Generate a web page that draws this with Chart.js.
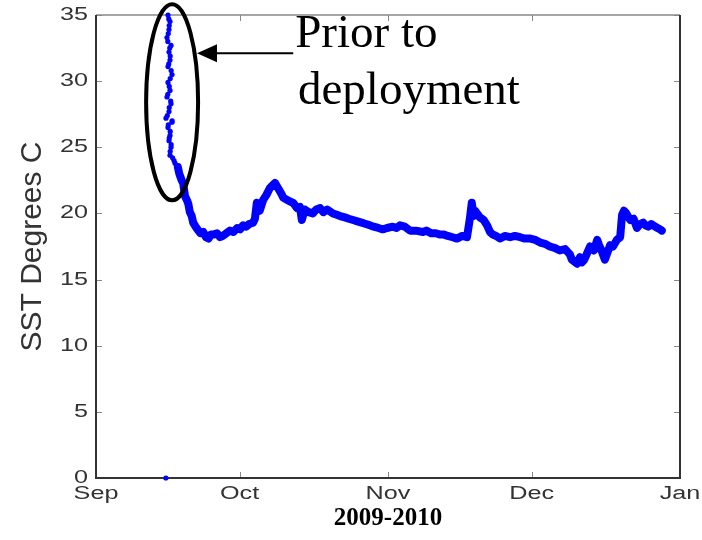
<!DOCTYPE html>
<html>
<head>
<meta charset="utf-8">
<script src="https://cdn.jsdelivr.net/npm/chart.js@4"></script>
<style>
html,body{margin:0;padding:0;background:#fff;}
canvas{display:block;}
</style>
</head>
<body>
<canvas id="c" width="702" height="540"></canvas>
<script>
// ---- tick definitions ----
const tickDays = [0, 30, 61, 91, 122];          // days since 1 Sep 2009
const monthLabels = ['Sep', 'Oct', 'Nov', 'Dec', 'Jan'];
const yTicks = [0, 5, 10, 15, 20, 25, 30, 35];

// ---- pre-deployment readings (day since 1 Sep, SST °C) ----
const priorDays = [15.04, 15.2, 15.46, 15.3, 15.25, 15.1, 14.83, 15.0, 15.67, 15.4, 15.25, 15.5,
                   15.46, 15.2, 15.04, 15.7, 15.88, 15.5, 15.04, 15.3, 15.46, 15.0, 14.83, 15.6,
                   15.67, 15.3, 15.25, 14.9, 14.62, 15.9, 15.88, 15.1, 15.04, 15.5, 15.46, 15.3,
                   15.25, 15.7, 15.67, 15.5, 15.46, 16.0, 16.29, 16.5, 14.6];
const priorSST  = [35.0, 34.7, 34.5, 34.2, 33.9, 33.6, 33.3, 33.0, 32.7, 32.5, 32.2, 31.9,
                   31.6, 31.3, 31.1, 30.8, 30.5, 30.2, 29.9, 29.6, 29.3, 29.0, 28.8, 28.5,
                   28.3, 28.0, 27.7, 27.4, 27.2, 27.0, 26.9, 26.7, 26.5, 26.2, 25.9, 25.7,
                   25.5, 25.2, 25.0, 24.7, 24.4, 24.2, 24.0, 23.8, 0.0];

// ---- deployed SST record ----
const sstDays = [17.1, 17.4, 17.6, 17.9, 18.2, 18.6, 19.0, 19.3, 19.6, 20.0, 20.3, 20.8, 21.2, 21.8,
  22.4, 23.0, 23.5, 24.0, 24.5, 25.3, 25.9, 26.5, 27.2, 28.0, 28.7, 29.5, 30.1, 30.7, 31.4, 32.0,
  32.8, 33.2, 33.6, 34.2, 34.9, 35.6, 36.3, 36.8, 37.4, 38.2, 38.7, 39.1, 40.0, 40.6, 41.2, 42.0,
  42.6, 43.0, 43.6, 44.4, 45.3, 46.0, 46.8, 47.5, 48.3, 49.5, 50.3, 51.0, 52.0, 52.8, 53.7, 54.6,
  55.5, 56.4, 57.2, 58.0, 59.0, 59.9, 60.8, 62.0, 62.8, 63.5, 64.5, 65.6, 66.8, 68.3, 69.0, 70.0,
  71.0, 71.9, 72.7, 73.5, 74.5, 75.4, 76.5, 77.5, 78.1, 78.5, 78.9, 79.2, 80.2, 81.0, 81.7, 82.3,
  82.9, 83.6, 84.4, 85.4, 86.5, 87.5, 88.6, 89.6, 90.7, 91.8, 92.8, 93.8, 94.8, 95.8, 96.9, 98.0,
  99.0, 99.4, 99.8, 100.5, 101.1, 101.5, 102.0, 102.6, 103.2, 104.0, 104.7, 105.1, 105.5, 106.3,
  106.8, 107.4, 108.0, 108.8, 109.5, 109.9, 110.3, 110.6, 111.1, 111.6, 112.3, 113.0, 113.7, 114.3,
  114.8, 115.4, 116.0, 116.4, 117.3, 117.8, 118.2];
const sstValues = [23.5, 23.0, 22.8, 22.5, 22.3, 21.3, 21.0, 20.7, 20.1, 19.8, 19.3, 19.0, 18.8, 18.5,
  18.6, 18.2, 18.1, 18.4, 18.4, 18.5, 18.2, 18.3, 18.5, 18.7, 18.6, 18.9, 18.8, 19.1, 19.0, 19.2,
  19.3, 19.6, 20.8, 20.2, 21.0, 21.4, 21.9, 22.1, 22.3, 21.8, 21.5, 21.2, 21.0, 20.9, 20.8, 20.4,
  20.5, 19.5, 20.3, 20.1, 20.0, 20.3, 20.4, 20.1, 20.3, 20.0, 19.9, 19.8, 19.7, 19.6, 19.5, 19.4,
  19.3, 19.2, 19.1, 19.0, 18.9, 18.8, 18.9, 19.0, 18.9, 19.1, 19.0, 18.7, 18.7, 18.6, 18.7, 18.5,
  18.5, 18.4, 18.4, 18.3, 18.2, 18.1, 18.3, 18.2, 19.6, 20.8, 19.8, 20.2, 19.7, 19.5, 19.1, 18.6,
  18.4, 18.3, 18.1, 18.3, 18.2, 18.3, 18.2, 18.1, 18.1, 18.0, 17.8, 17.7, 17.5, 17.4, 17.2, 17.3,
  16.9, 16.5, 16.4, 16.2, 16.7, 16.3, 16.5, 17.0, 17.5, 17.2, 18.0, 17.6, 17.3, 16.5,
  17.0, 17.6, 17.5, 18.0, 18.2, 19.9, 20.2, 20.1, 19.8, 19.5, 19.6, 18.9, 19.2, 19.3,
  19.1, 19.0, 19.2, 19.1, 18.9, 18.8, 18.7];

// ---- annotation (in data units) ----
const annotation = {
  ellipse: { day: 15.9, val: 28.4, rxDays: 5.43, ryVal: 7.41 },
  arrow: { fromDay: 41.2, toDay: 21.1, val: 32.1 },
  lines: [ { day: 41.6, val: 32.6, text: 'Prior to' }, { day: 42.2, val: 28.3, text: 'deployment' } ]
};

const toPts = (xs, ys) => xs.map((x, i) => ({ x: x, y: ys[i] }));

const decorPlugin = {
  id: 'decor',
  beforeDraw(chart) {
    const ctx = chart.ctx;
    ctx.save();
    ctx.fillStyle = '#fff';
    ctx.fillRect(0, 0, chart.width, chart.height);
    ctx.restore();
  },
  beforeDatasetsDraw(chart) {
    const ctx = chart.ctx, a = chart.chartArea;
    const xs = chart.scales.x, ys = chart.scales.y;
    ctx.save();
    // inward ticks
    ctx.strokeStyle = '#888';
    ctx.lineWidth = 1;
    ctx.beginPath();
    xs.ticks.forEach(t => {
      const px = Math.round(xs.getPixelForValue(t.value)) + 0.5;
      ctx.moveTo(px, a.bottom); ctx.lineTo(px, a.bottom - 6);
      ctx.moveTo(px, a.top); ctx.lineTo(px, a.top + 6);
    });
    ys.ticks.forEach(t => {
      const py = Math.round(ys.getPixelForValue(t.value)) + 0.5;
      ctx.moveTo(a.left, py); ctx.lineTo(a.left + 6, py);
      ctx.moveTo(a.right, py); ctx.lineTo(a.right - 6, py);
    });
    ctx.stroke();
    // box
    ctx.lineWidth = 1.5;
    ctx.strokeStyle = '#888';
    ctx.beginPath(); ctx.moveTo(a.left, a.top); ctx.lineTo(a.right, a.top); ctx.stroke();
    ctx.lineWidth = 2;
    ctx.strokeStyle = '#333';
    ctx.beginPath();
    ctx.moveTo(a.left, a.top); ctx.lineTo(a.left, a.bottom); ctx.lineTo(a.right, a.bottom); ctx.lineTo(a.right, a.top);
    ctx.stroke();
    // tick labels (wide sans like the original)
    ctx.fillStyle = '#333';
    ctx.font = '18px "Liberation Sans", Arial, sans-serif';
    ctx.textAlign = 'right';
    ctx.textBaseline = 'middle';
    ys.ticks.forEach(t => {
      const py = ys.getPixelForValue(t.value);
      ctx.save(); ctx.translate(a.left - 8, py); ctx.scale(1.4, 1);
      ctx.fillText(String(t.value), 0, 0); ctx.restore();
    });
    ctx.textAlign = 'center';
    ctx.textBaseline = 'top';
    xs.ticks.forEach((t, i) => {
      const px = xs.getPixelForValue(t.value);
      ctx.save(); ctx.translate(px, a.bottom + 7); ctx.scale(1.4, 1);
      ctx.fillText(monthLabels[i], 0, 0); ctx.restore();
    });
    ctx.restore();
  },
  afterDraw(chart) {
    const ctx = chart.ctx;
    const xs = chart.scales.x, ys = chart.scales.y;
    ctx.save();
    // ellipse
    const e = annotation.ellipse;
    const cx = xs.getPixelForValue(e.day), cy = ys.getPixelForValue(e.val);
    const rx = Math.abs(xs.getPixelForValue(e.day + e.rxDays) - cx);
    const ry = Math.abs(ys.getPixelForValue(e.val + e.ryVal) - cy);
    ctx.strokeStyle = '#000';
    ctx.lineWidth = 4;
    ctx.beginPath(); ctx.ellipse(cx, cy, rx, ry, 0, 0, Math.PI * 2); ctx.stroke();
    // arrow
    const ar = annotation.arrow;
    const x0 = xs.getPixelForValue(ar.fromDay), x1 = xs.getPixelForValue(ar.toDay), y = ys.getPixelForValue(ar.val);
    ctx.lineWidth = 2;
    ctx.beginPath(); ctx.moveTo(x0, y); ctx.lineTo(x1 + 18, y); ctx.stroke();
    ctx.fillStyle = '#000';
    ctx.beginPath(); ctx.moveTo(x1, y); ctx.lineTo(x1 + 20, y - 9); ctx.lineTo(x1 + 20, y + 9); ctx.closePath(); ctx.fill();
    // text
    ctx.font = '47px "Liberation Serif", "Times New Roman", serif';
    ctx.textAlign = 'left';
    ctx.textBaseline = 'alphabetic';
    annotation.lines.forEach(l => {
      ctx.fillText(l.text, xs.getPixelForValue(l.day), ys.getPixelForValue(l.val));
    });
    ctx.restore();
  }
};

new Chart(document.getElementById('c'), {
  type: 'scatter',
  data: {
    datasets: [
      {
        label: 'Prior to deployment',
        data: toPts(priorDays, priorSST),
        showLine: false,
        pointRadius: 2.6,
        pointBorderWidth: 0,
        pointBackgroundColor: '#0000ff',
        clip: 8
      },
      {
        label: 'SST',
        data: toPts(sstDays, sstValues),
        showLine: true,
        borderColor: '#0000ff',
        borderWidth: 8,
        borderJoinStyle: 'round',
        borderCapStyle: 'round',
        pointRadius: 0,
        tension: 0
      }
    ]
  },
  options: {
    responsive: false,
    animation: false,
    devicePixelRatio: 1,
    layout: { padding: { left: 0, right: 22, top: 15, bottom: 0 } },
    plugins: { legend: { display: false }, tooltip: { enabled: false } },
    scales: {
      x: {
        type: 'linear',
        min: tickDays[0],
        max: tickDays[tickDays.length - 1],
        afterBuildTicks: s => { s.ticks = tickDays.map(v => ({ value: v })); },
        afterFit: s => { s.height = 62; },
        grid: { display: false },
        border: { display: false },
        ticks: { display: false },
        title: {
          display: true,
          text: '2009-2010',
          color: '#000',
          font: { family: '"Liberation Serif", "Times New Roman", serif', size: 25, weight: 'bold' },
          padding: { top: 0, bottom: 6 }
        }
      },
      y: {
        type: 'linear',
        min: yTicks[0],
        max: yTicks[yTicks.length - 1],
        afterBuildTicks: s => { s.ticks = yTicks.map(v => ({ value: v })); },
        afterFit: s => { s.width = 96; },
        grid: { display: false },
        border: { display: false },
        ticks: { display: false },
        title: {
          display: true,
          text: 'SST Degrees C',
          color: '#333',
          font: { family: '"Liberation Sans", Arial, sans-serif', size: 30 },
          padding: { top: 15, bottom: 0 }
        }
      }
    }
  },
  plugins: [decorPlugin]
});
</script>
</body>
</html>
